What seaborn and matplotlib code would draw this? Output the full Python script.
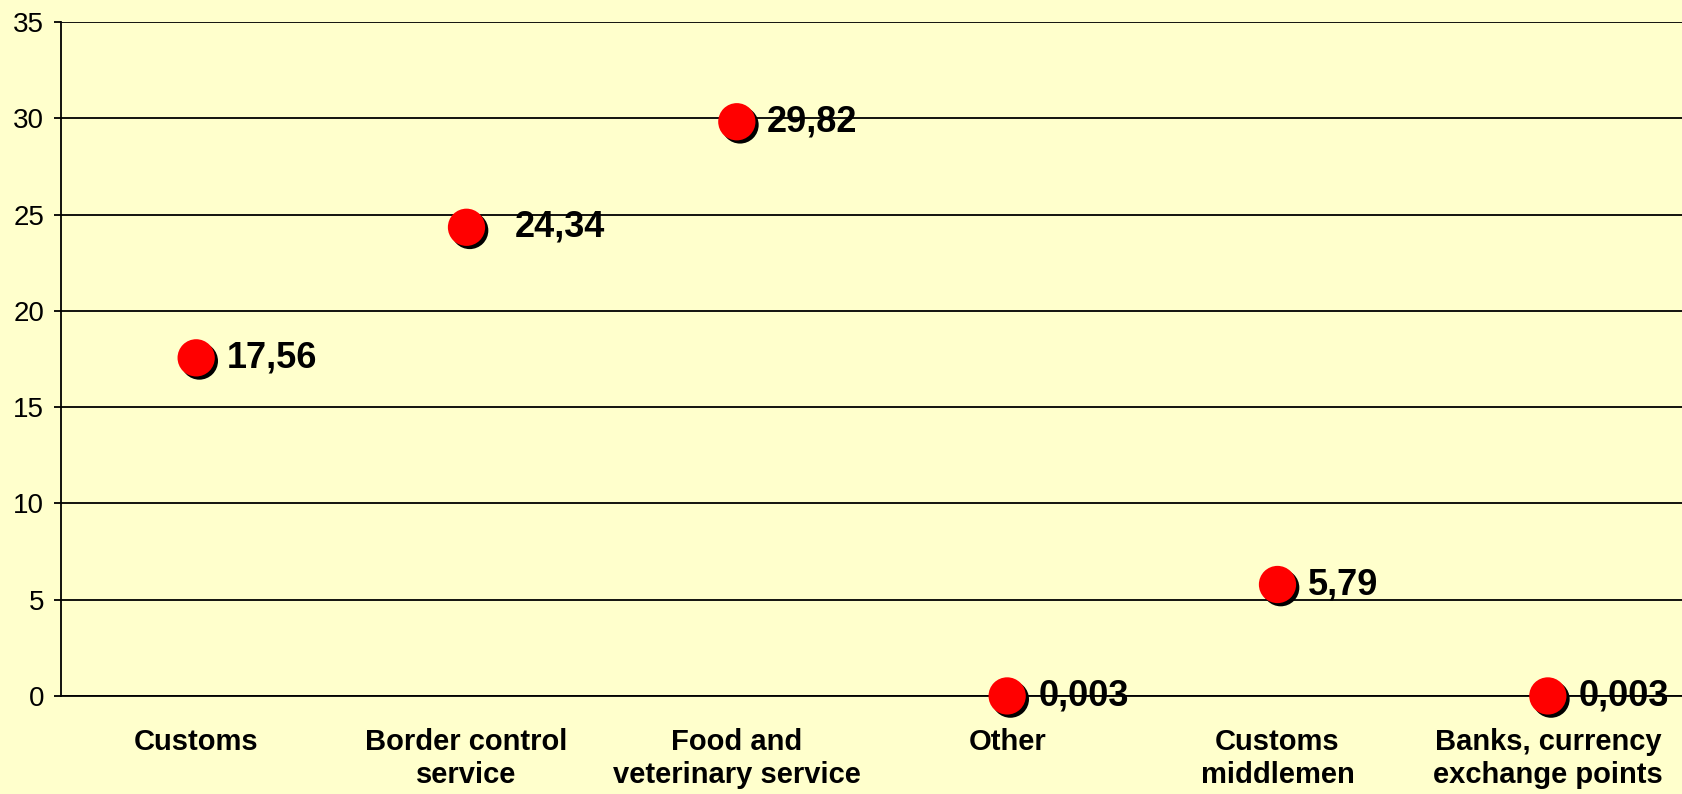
import matplotlib
matplotlib.use('Agg')
import matplotlib.pyplot as plt
import matplotlib.patheffects as pe
import seaborn as sns
import pandas as pd

# data
categories = ['Customs', 'Border control\nservice', 'Food and\nveterinary service',
              'Other', 'Customs\nmiddlemen', 'Banks, currency\nexchange points']
values = [17.56, 24.34, 29.82, 0.003, 5.79, 0.003]
y_ticks = [0, 5, 10, 15, 20, 25, 30, 35]

# label offset in pixels (the 24,34 label sits further out)
label_dx = [31, 48, 30, 31, 30, 31]

df = pd.DataFrame({'category': categories, 'value': values})

sns.set_style('white')
plt.rcParams['font.family'] = ['Liberation Sans', 'DejaVu Sans']
plt.rcParams['text.color'] = 'black'
plt.rcParams['xtick.color'] = 'black'
plt.rcParams['ytick.color'] = 'black'

bg = '#FFFFCC'
fig = plt.figure(figsize=(16.83, 7.94), dpi=100, facecolor=bg)
ax = fig.add_axes([61 / 1683, 1 - 696 / 794, 1 - 61 / 1683, (696 - 22) / 794])
ax.set_facecolor(bg)

sns.scatterplot(data=df, x='category', y='value', ax=ax, s=720, color='#FF0000',
                edgecolor='none', linewidth=0, zorder=5, clip_on=False)
ax.collections[0].set_path_effects([
    pe.SimplePatchShadow(offset=(2.3, -2.3), shadow_rgbFace='black', alpha=1),
    pe.Normal()])

# value labels
for i, v in enumerate(values):
    ax.annotate(str(v).replace('.', ','), (i, v), xytext=(label_dx[i] * 0.72, 0),
                textcoords='offset points', ha='left', va='center',
                fontsize=26, fontweight='bold', color='black', zorder=6,
                annotation_clip=False)

ax.set_ylim(0, 35)
ax.set_xlim(-0.5, len(categories) - 0.5)
ax.set_yticks(y_ticks)
ax.set_yticklabels([str(t) for t in y_ticks], fontsize=20, color='black')
ax.set_xticks(range(len(categories)))
ax.set_xticklabels(categories, fontsize=21, fontweight='bold', linespacing=1.25, color='black')
ax.set_xticks([i - 0.5 for i in range(len(categories) + 1)], minor=True)
ax.tick_params(axis='x', which='major', length=0, pad=23)
ax.tick_params(axis='x', which='minor', length=6, width=1.3, color='black', direction='out')
ax.tick_params(axis='y', length=5, width=1.3, color='black', direction='out', pad=7, left=True)
ax.set_xlabel('')
ax.set_ylabel('')

ax.grid(axis='y', color='black', linewidth=1.3)
ax.grid(axis='x', visible=False)
ax.set_axisbelow(True)
for side in ['top', 'right']:
    ax.spines[side].set_visible(False)
for side in ['left', 'bottom']:
    ax.spines[side].set_color('black')
    ax.spines[side].set_linewidth(1.3)

fig.savefig('out.png', dpi=100, facecolor=bg)
